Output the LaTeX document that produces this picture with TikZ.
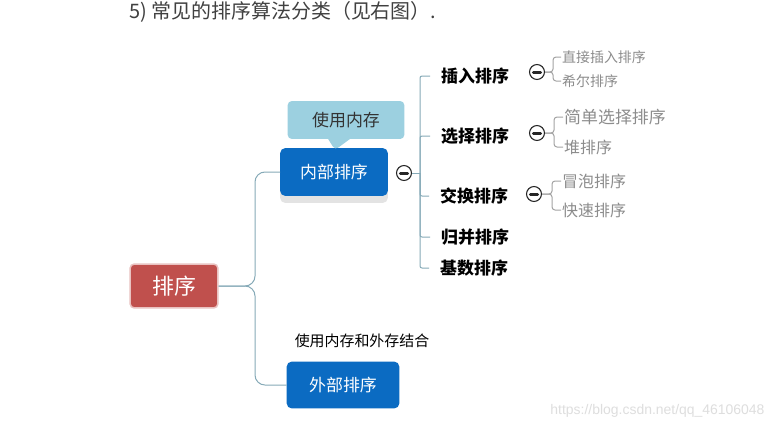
\documentclass[tikz,border=0pt]{standalone}
\usepackage{fontspec}
\newfontfamily\cjk{Noto Sans CJK SC}
\setsansfont{Liberation Sans}
\usetikzlibrary{positioning, shapes.callouts, shadows}

\definecolor{rootred}{HTML}{C0504D}
\definecolor{boxblue}{HTML}{0B6BC2}
\definecolor{memoblue}{HTML}{9CD0E0}
\definecolor{trunkgray}{HTML}{86AAB8}
\definecolor{subgray}{HTML}{8C8C8C}

\begin{document}
\begin{tikzpicture}[x=1bp, y=-1bp,
    rootbox/.style={fill=rootred, draw=rootred!35!white, line width=1.5, rounded corners=4,
        text=white, font=\cjk\fontsize{22}{24}\selectfont, minimum width=88, minimum height=44},
    mainbox/.style={fill=boxblue, rounded corners=5, text=white,
        font=\cjk\fontsize{17}{19}\selectfont},
    memo/.style={rectangle callout, fill=memoblue, rounded corners=4, text=black!80,
        font=\cjk\fontsize{17}{19}\selectfont, minimum width=117, minimum height=38,
        callout pointer width=22},
    kid/.style={anchor=west, inner sep=1, font=\cjk\bfseries\fontsize{17}{19}\selectfont},
    leaf/.style={anchor=west, inner sep=1, text=subgray, font=\cjk\fontsize{16}{18}\selectfont},
    fold/.style={circle, draw=black!85, line width=1.1, fill=white, minimum size=15, inner sep=0,
        path picture={\draw[line width=3, line cap=round]
            ([xshift=-3.6]path picture bounding box.center) -- ([xshift=3.6]path picture bounding box.center);}},
    trunk/.style={draw=trunkgray, line width=1},
    sub/.style={draw=subgray!80, line width=1, rounded corners=3}]
\useasboundingbox (0,0) rectangle (777,430);
\fill[white] (0,0) rectangle (777,430);

% heading line
\node[anchor=west, text=black!75, font=\cjk\fontsize{20}{22}\selectfont] (title) at (126,12) {5) 常见的排序算法分类（见右图）.};

% main boxes
\node[rootbox] (root) at (174,286) {排序};
\node[mainbox, minimum width=108, minimum height=48,
    drop shadow={shadow xshift=0, shadow yshift=7, opacity=0.22}] (inner) at (334,172) {内部排序};
\node[mainbox, minimum width=113, minimum height=47] (outer) at (343,385) {外部排序};
\node[memo, callout absolute pointer={(335,150)}] (mem) at (346,120) {使用内存};
\node[font=\cjk\fontsize{15}{17}\selectfont] (mix) at (362,341) {使用内存和外存结合};

\draw[trunk, rounded corners=10] (root.east) -- (255,286) |- (inner.west);
\draw[trunk, rounded corners=10] (root.east) -- (255,286) |- (outer.west);

% internal sorts
\node[fold] (f0) at (404,173) {};
\node[kid] (c1) at (440,76) {插入排序};
\node[kid] (c2) at (440,136) {选择排序};
\node[kid] (c3) at (439,196) {交换排序};
\node[kid] (c4) at (440,237) {归并排序};
\node[kid] (c5) at (439,268) {基数排序};

\coordinate (fork) at (420,173);
\draw[trunk] (f0.east) -- (fork);
\foreach \c in {c1,c2,c3,c4,c5}
    \draw[trunk, rounded corners=2] (fork) |- ([xshift=-10]\c.west);

\node[fold] (f1) at (537,72) {};
\node[fold] (f2) at (537,133) {};
\node[fold] (f3) at (534,194) {};

% leaves
\node[leaf, font=\cjk\fontsize{14}{16}\selectfont] (g11) at (561,57) {直接插入排序};
\node[leaf, font=\cjk\fontsize{14}{16}\selectfont] (g12) at (561,81) {希尔排序};
\node[leaf, font=\cjk\fontsize{17}{19}\selectfont] (g21) at (563,117) {简单选择排序};
\node[leaf] (g22) at (563,147) {堆排序};
\node[leaf] (g31) at (561,181) {冒泡排序};
\node[leaf] (g32) at (561,210) {快速排序};

\draw[sub] (f1.east) -- ++(8,0) |- (g11.west);
\draw[sub] (f1.east) -- ++(8,0) |- (g12.west);
\draw[sub] (f2.east) -- ++(9,0) |- (g21.west);
\draw[sub] (f2.east) -- ++(9,0) |- (g22.west);
\draw[sub] (f3.east) -- ++(10,0) |- (g31.west);
\draw[sub] (f3.east) -- ++(10,0) |- (g32.west);

% watermark
\node[anchor=east, text=black!13, font=\sffamily\fontsize{14}{16}\selectfont] (wm) at (768,411) {https://blog.csdn.net/qq\_46106048};
\end{tikzpicture}
\end{document}
